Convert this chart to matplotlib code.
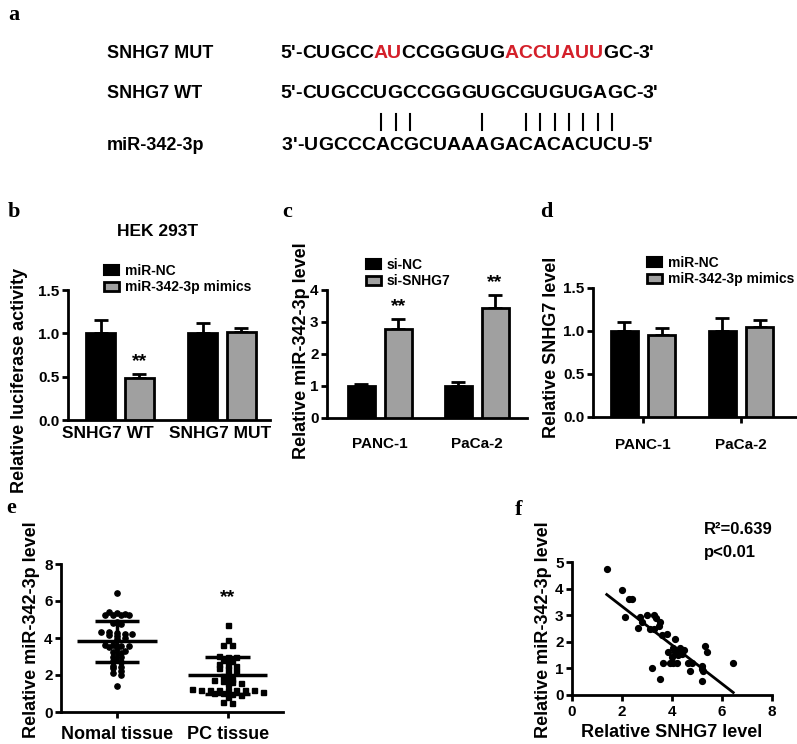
import numpy as np
import matplotlib
matplotlib.use("Agg")
import matplotlib.pyplot as plt
from matplotlib.patches import Patch
from matplotlib.lines import Line2D

# ---- data ----
mut_seq = [("5'-CUGCC", "black"), ("AU", "red"), ("CCGGGUG", "black"),
           ("ACCUAUU", "red"), ("GC-3'", "black")]
wt_seq = "5'-CUGCCUGCCGGGUGCGUGUGAGC-3'"
mir_seq = "3'-UGCCCACGCUAAAGACACACUCU-5'"
pair_idx = [5, 6, 7, 12, 15, 16, 17, 18, 19, 20, 21]

b_groups = ["SNHG7 WT", "SNHG7 MUT"]
b_nc = [1.0, 1.0]
b_nc_err = [0.15, 0.12]
b_mim = [0.48, 1.02]
b_mim_err = [0.05, 0.04]

c_groups = ["PANC-1", "PaCa-2"]
c_nc = [1.0, 1.0]
c_nc_err = [0.07, 0.14]
c_si = [2.78, 3.45]
c_si_err = [0.30, 0.38]

d_groups = ["PANC-1", "PaCa-2"]
d_nc = [1.0, 1.0]
d_nc_err = [0.11, 0.15]
d_mim = [0.95, 1.05]
d_mim_err = [0.08, 0.08]

e_groups = ["Nomal tissue", "PC tissue"]
normal = [6.45, 5.4, 5.35, 5.3, 5.25, 5.25, 5.25, 5.25, 4.85, 4.8, 4.75,
          4.35, 4.3, 4.25, 4.2, 4.2, 4.15, 4.1, 4.0, 3.95, 3.6, 3.6, 3.55,
          3.55, 3.5, 3.45, 3.3, 3.25, 3.2, 3.0, 2.95, 2.75, 2.7, 2.5, 2.45,
          2.4, 2.2, 2.1, 2.0, 1.4]
pc = [4.7, 3.9, 3.62, 3.6, 3.05, 3.0, 3.0, 2.8, 2.75, 2.6, 2.55, 2.5, 2.4,
      2.35, 2.2, 2.05, 1.95, 1.8, 1.75, 1.7, 1.6, 1.55, 1.5, 1.22, 1.2, 1.2,
      1.2, 1.2, 1.2, 1.2, 1.18, 1.1, 1.05, 1.05, 0.95, 0.9, 0.8, 0.55, 0.5]
e_mean = [3.82, 2.0]
e_sd = [1.1, 1.0]

f_x = [1.39, 1.99, 2.27, 2.41, 2.12, 2.72, 2.99, 3.28, 3.35, 2.65, 2.79, 3.12,
       3.28, 3.48, 3.52, 3.59, 3.79, 4.12, 3.85, 3.99, 4.12, 4.05, 4.25, 4.32,
       4.48, 4.39, 4.05, 3.92, 3.65, 4.19, 4.65, 4.79, 4.72, 3.19, 3.52, 5.19,
       5.21, 5.25, 5.19, 5.32, 5.4, 6.45]
f_y = [4.72, 3.93, 3.62, 3.62, 2.93, 2.93, 3.02, 3.02, 2.9, 2.52, 2.75, 2.49,
       2.49, 2.6, 2.75, 2.25, 2.31, 2.12, 1.62, 1.44, 1.6, 1.75, 1.5, 1.75,
       1.68, 1.56, 1.22, 1.22, 1.22, 1.22, 1.22, 1.22, 0.9, 1.02, 0.62, 1.1,
       0.98, 0.92, 0.52, 1.84, 1.62, 1.22]

GRAY = "#a0a0a0"
RED = "#d4202a"
W, H = 797, 744

plt.rcParams["font.family"] = ["Liberation Sans", "DejaVu Sans"]
plt.rcParams["font.weight"] = "bold"
plt.rcParams["axes.labelweight"] = "bold"

fig = plt.figure(figsize=(W / 100, H / 100), dpi=100)
rend = fig.canvas.get_renderer()


def fx(x):
    return x / W


def fy(y):
    return 1 - y / H


def add_ax(l, t, r, b):
    return fig.add_axes([l / W, 1 - b / H, (r - l) / W, (b - t) / H])


def style(ax, xlen=0, xpad=3, xsize=11):
    for s in ["top", "right"]:
        ax.spines[s].set_visible(False)
    for s in ["left", "bottom"]:
        ax.spines[s].set_linewidth(2)
    ax.tick_params(axis="y", direction="out", length=4, width=2, labelsize=11, pad=2)
    ax.tick_params(axis="x", direction="out", length=xlen, width=2, labelsize=xsize, pad=xpad)


def letter(x, y, s):
    fig.text(fx(x), fy(y), s, fontsize=16, family="Liberation Serif",
             weight="bold", ha="left", va="center")


def ylab(x, y, s):
    fig.text(fx(x), fy(y), s, fontsize=13, rotation=90, ha="center", va="center")


def draw_seq(x, y, pieces, size=14):
    centers = []
    for txt, col in pieces:
        for ch in txt:
            t = fig.text(fx(x), fy(y), ch, fontsize=size, color=RED if col == "red" else col,
                         ha="left", va="center")
            w = t.get_window_extent(rend).width
            centers.append(x + w / 2)
            x += w
    return centers


def bars(ax, groups, a, a_err, b, b_err, off=0.19, width=0.28):
    x = np.arange(len(groups))
    ax.bar(x - off, a, width, color="black", edgecolor="black", linewidth=2, zorder=3)
    ax.bar(x + off, b, width, color=GRAY, edgecolor="black", linewidth=2, zorder=3)
    z = np.zeros(len(groups))
    ax.errorbar(x - off, a, yerr=[z, a_err], fmt="none", ecolor="black",
                elinewidth=2, capsize=5, capthick=2, zorder=2)
    ax.errorbar(x + off, b, yerr=[z, b_err], fmt="none", ecolor="black",
                elinewidth=2, capsize=5, capthick=2, zorder=2)
    ax.set_xticks(x)
    ax.set_xticklabels(groups)
    return x + off


def legend(x, y, labels):
    handles = [Patch(facecolor="black", edgecolor="black", linewidth=1.5),
               Patch(facecolor=GRAY, edgecolor="black", linewidth=2)]
    fig.legend(handles, labels, loc="upper left", bbox_to_anchor=(fx(x), fy(y)),
               frameon=False, borderpad=0, borderaxespad=0, handlelength=1.1,
               handleheight=0.65, handletextpad=0.4, labelspacing=0.15,
               prop={"size": 10, "weight": "bold"})


def stars(ax, x, y, dy=3):
    ax.annotate("**", (x, y), xytext=(0, dy), textcoords="offset points",
                ha="center", va="bottom", fontsize=14)


def swarm(vals, row, step):
    vals = np.asarray(vals)
    offs = np.zeros(len(vals))
    bins = np.floor(vals / row)
    for bn in np.unique(bins):
        idx = np.where(bins == bn)[0]
        offs[idx] = (np.arange(len(idx)) - (len(idx) - 1) / 2) * step
    return offs


# ---- panel a ----
letter(8, 15, "a")
for yy, lab in [(53, "SNHG7 MUT"), (94, "SNHG7 WT"), (146, "miR-342-3p")]:
    fig.text(fx(107), fy(yy), lab, fontsize=13, ha="left", va="center")
draw_seq(280, 53, mut_seq)
wt_c = draw_seq(280, 94, [(wt_seq, "black")])
mir_c = draw_seq(282, 146, [(mir_seq, "black")])
for i in pair_idx:
    xc = (wt_c[i + 3] + mir_c[i + 3]) / 2
    fig.add_artist(Line2D([fx(xc), fx(xc)], [fy(114), fy(130)], color="black", lw=1.5))

# ---- panel b ----
letter(8, 212, "b")
fig.text(fx(158), fy(232), "HEK 293T", fontsize=12.5, ha="center", va="center")
ax = add_ax(68, 290, 270, 420)
bars(ax, b_groups, b_nc, b_nc_err, b_mim, b_mim_err)
ax.set_xticks([-0.12, 0.98])
ax.set_xticklabels(b_groups)
ax.set_ylim(0, 1.5)
ax.set_yticks([0, 0.5, 1.0, 1.5])
ax.set_xlim(-0.51, 1.47)
style(ax, xlen=0, xpad=4, xsize=12.5)
stars(ax, 0.19, b_mim[0] + b_mim_err[0])
ylab(20, 380, "Relative luciferase activity")
legend(104, 264, ["miR-NC", "miR-342-3p mimics"])

# ---- panel c ----
letter(282, 212, "c")
ax = add_ax(327, 290, 527, 418)
gx = bars(ax, c_groups, c_nc, c_nc_err, c_si, c_si_err)
ax.set_ylim(0, 4)
ax.set_yticks([0, 1, 2, 3, 4])
ax.set_xlim(-0.546, 1.52)
style(ax, xlen=0, xpad=14, xsize=11)
for k in range(2):
    stars(ax, gx[k], c_si[k] + c_si_err[k])
ylab(302, 351, "Relative miR-342-3p level")
legend(366, 258, ["si-NC", "si-SNHG7"])

# ---- panel d ----
letter(540, 212, "d")
ax = add_ax(593, 288, 797, 417)
bars(ax, d_groups, d_nc, d_nc_err, d_mim, d_mim_err)
ax.set_ylim(0, 1.5)
ax.set_yticks([0, 0.5, 1.0, 1.5])
ax.set_xlim(-0.51, 1.57)
style(ax, xlen=4, xpad=11, xsize=11)
ylab(552, 347, "Relative SNHG7 level")
legend(647, 256, ["miR-NC", "miR-342-3p mimics"])

# ---- panel e ----
letter(6, 508, "e")
ax = add_ax(61, 564, 283, 712)
ax.plot(0 + swarm(normal, 0.22, 0.07), normal, "o", ms=3.8, color="black",
        zorder=3, clip_on=False)
ax.plot(1 + swarm(pc, 0.22, 0.08), pc, "s", ms=3.6, color="black",
        zorder=3, clip_on=False)
for k in range(2):
    m, s = e_mean[k], e_sd[k]
    ax.hlines(m, k - 0.36, k + 0.36, color="black", lw=2.5, zorder=4)
    ax.hlines([m - s, m + s], k - 0.2, k + 0.2, color="black", lw=2.5, zorder=4)
    ax.vlines(k, m - s, m + s, color="black", lw=2.5, zorder=4)
ax.annotate("**", (1, max(pc)), xytext=(0, 14), textcoords="offset points",
            ha="center", va="bottom", fontsize=14)
ax.set_xticks([0, 1])
ax.set_xticklabels(e_groups)
ax.set_xlim(-0.505, 1.5)
ax.set_ylim(0, 8)
ax.set_yticks([0, 2, 4, 6, 8])
style(ax, xlen=4, xpad=6, xsize=13)
ylab(32, 630, "Relative miR-342-3p level")

# ---- panel f ----
letter(515, 510, "f")
ax = add_ax(572, 562, 772, 695)
fxv = np.array(f_x)
fyv = np.array(f_y)
ax.plot(fxv, fyv, "o", ms=4.2, color="black", zorder=3, clip_on=False)
k1, k0 = np.polyfit(fxv, fyv, 1)
xl = np.array([fxv.min(), fxv.max()])
ax.plot(xl, k1 * xl + k0, color="black", lw=2)
ax.set_xlim(0, 8)
ax.set_ylim(0, 5)
ax.set_xticks([0, 2, 4, 6, 8])
ax.set_yticks([0, 1, 2, 3, 4, 5])
style(ax, xlen=4, xpad=3, xsize=11)
ax.set_xlabel("Relative SNHG7 level", fontsize=13, labelpad=4)
ylab(543, 630, "Relative miR-342-3p level")
fig.text(fx(704), fy(530), "R\u00b2=0.639", fontsize=12, ha="left", va="center")
fig.text(fx(704), fy(552), "p<0.01", fontsize=12, ha="left", va="center")

fig.savefig("out.png", dpi=100)
